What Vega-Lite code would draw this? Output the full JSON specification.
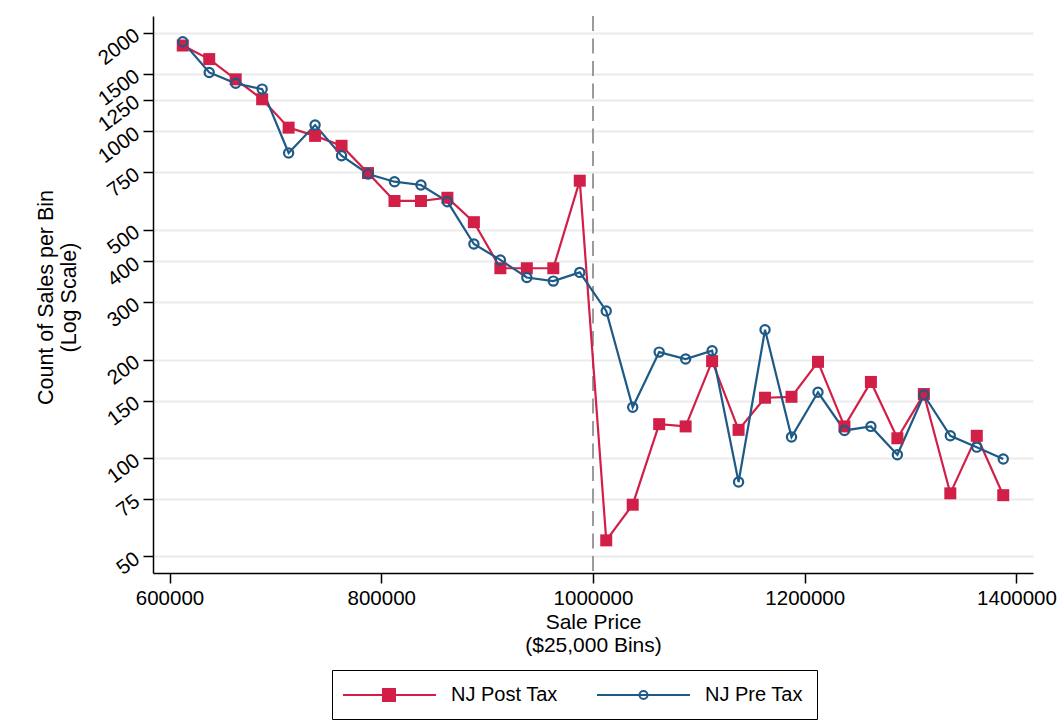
{
  "$schema": "https://vega.github.io/schema/vega-lite/v6.json",
  "width": 880,
  "height": 557,
  "autosize": {"type": "none"},
  "padding": {"left": 153, "top": 16, "right": 27, "bottom": 148},
  "background": "white",
  "config": {
    "font": "Liberation Sans",
    "view": {"stroke": null},
    "axis": {"labelColor": "black", "titleColor": "black", "titleFontWeight": "normal", "domainColor": "black", "tickColor": "black", "domainWidth": 1.5, "tickWidth": 1.5}
  },
  "datasets": {
    "sales": [
      {"price": 612500, "series": "NJ Post Tax", "count": 1830},
      {"price": 637500, "series": "NJ Post Tax", "count": 1663},
      {"price": 662500, "series": "NJ Post Tax", "count": 1442},
      {"price": 687500, "series": "NJ Post Tax", "count": 1253},
      {"price": 712500, "series": "NJ Post Tax", "count": 1026},
      {"price": 737500, "series": "NJ Post Tax", "count": 968},
      {"price": 762500, "series": "NJ Post Tax", "count": 903},
      {"price": 787500, "series": "NJ Post Tax", "count": 745},
      {"price": 812500, "series": "NJ Post Tax", "count": 612},
      {"price": 837500, "series": "NJ Post Tax", "count": 612},
      {"price": 862500, "series": "NJ Post Tax", "count": 626},
      {"price": 887500, "series": "NJ Post Tax", "count": 527},
      {"price": 912500, "series": "NJ Post Tax", "count": 381},
      {"price": 937500, "series": "NJ Post Tax", "count": 381},
      {"price": 962500, "series": "NJ Post Tax", "count": 381},
      {"price": 987500, "series": "NJ Post Tax", "count": 706},
      {"price": 1012500, "series": "NJ Post Tax", "count": 56},
      {"price": 1037500, "series": "NJ Post Tax", "count": 72},
      {"price": 1062500, "series": "NJ Post Tax", "count": 127},
      {"price": 1087500, "series": "NJ Post Tax", "count": 125},
      {"price": 1112500, "series": "NJ Post Tax", "count": 198},
      {"price": 1137500, "series": "NJ Post Tax", "count": 122},
      {"price": 1162500, "series": "NJ Post Tax", "count": 153},
      {"price": 1187500, "series": "NJ Post Tax", "count": 154},
      {"price": 1212500, "series": "NJ Post Tax", "count": 197},
      {"price": 1237500, "series": "NJ Post Tax", "count": 125},
      {"price": 1262500, "series": "NJ Post Tax", "count": 171},
      {"price": 1287500, "series": "NJ Post Tax", "count": 115},
      {"price": 1312500, "series": "NJ Post Tax", "count": 157},
      {"price": 1337500, "series": "NJ Post Tax", "count": 78},
      {"price": 1362500, "series": "NJ Post Tax", "count": 117},
      {"price": 1387500, "series": "NJ Post Tax", "count": 77},
      {"price": 612500, "series": "NJ Pre Tax", "count": 1880},
      {"price": 637500, "series": "NJ Pre Tax", "count": 1514},
      {"price": 662500, "series": "NJ Pre Tax", "count": 1402},
      {"price": 687500, "series": "NJ Pre Tax", "count": 1346},
      {"price": 712500, "series": "NJ Pre Tax", "count": 858},
      {"price": 737500, "series": "NJ Pre Tax", "count": 1045},
      {"price": 762500, "series": "NJ Pre Tax", "count": 842},
      {"price": 787500, "series": "NJ Pre Tax", "count": 740},
      {"price": 812500, "series": "NJ Pre Tax", "count": 701},
      {"price": 837500, "series": "NJ Pre Tax", "count": 685},
      {"price": 862500, "series": "NJ Pre Tax", "count": 609},
      {"price": 887500, "series": "NJ Pre Tax", "count": 452},
      {"price": 912500, "series": "NJ Pre Tax", "count": 404},
      {"price": 937500, "series": "NJ Pre Tax", "count": 357},
      {"price": 962500, "series": "NJ Pre Tax", "count": 348},
      {"price": 987500, "series": "NJ Pre Tax", "count": 370},
      {"price": 1012500, "series": "NJ Pre Tax", "count": 282},
      {"price": 1037500, "series": "NJ Pre Tax", "count": 143},
      {"price": 1062500, "series": "NJ Pre Tax", "count": 211},
      {"price": 1087500, "series": "NJ Pre Tax", "count": 201},
      {"price": 1112500, "series": "NJ Pre Tax", "count": 213},
      {"price": 1137500, "series": "NJ Pre Tax", "count": 84.5},
      {"price": 1162500, "series": "NJ Pre Tax", "count": 247},
      {"price": 1187500, "series": "NJ Pre Tax", "count": 116},
      {"price": 1212500, "series": "NJ Pre Tax", "count": 159},
      {"price": 1237500, "series": "NJ Pre Tax", "count": 121.5},
      {"price": 1262500, "series": "NJ Pre Tax", "count": 125},
      {"price": 1287500, "series": "NJ Pre Tax", "count": 102.4},
      {"price": 1312500, "series": "NJ Pre Tax", "count": 156},
      {"price": 1337500, "series": "NJ Pre Tax", "count": 117},
      {"price": 1362500, "series": "NJ Pre Tax", "count": 108},
      {"price": 1387500, "series": "NJ Pre Tax", "count": 99.3}
    ],
    "cutoff": [{"cut": 1000000}]
  },
  "encoding": {
    "x": {
      "field": "price", "type": "quantitative",
      "scale": {"domain": [584400, 1415600], "nice": false, "zero": false},
      "axis": {
        "values": [600000, 800000, 1000000, 1200000, 1400000],
        "format": "d", "grid": false, "tickSize": 10,
        "labelFontSize": 20.5, "labelPadding": 5, "labelFlush": false, "labelOverlap": false,
        "title": ["Sale Price", "($25,000 Bins)"],
        "titleFontSize": 21, "titleLineHeight": 23, "titleBaseline": "top",
        "titleX": 440, "titleY": 38, "titleAlign": "center"
      }
    },
    "y": {
      "field": "count", "type": "quantitative",
      "scale": {"type": "log", "domain": [44.5, 2253], "nice": false},
      "axis": {
        "values": [50, 75, 100, 150, 200, 300, 400, 500, 750, 1000, 1250, 1500, 2000],
        "format": "d", "grid": true, "gridColor": "#ebebeb", "gridWidth": 2,
        "tickSize": 10, "labelAngle": -37, "labelAlign": "right", "labelBaseline": "middle",
        "labelFontSize": 20.5, "labelPadding": 6, "labelFlush": false, "labelOverlap": false,
        "title": ["Count of Sales per Bin", "(Log Scale)"],
        "titleFontSize": 21.5, "titleLineHeight": 23, "titleAngle": -90,
        "titleX": -107, "titleY": 281, "titleAlign": "center", "titleBaseline": "middle"
      }
    }
  },
  "layer": [
    {
      "data": {"name": "cutoff"},
      "mark": {"type": "rule", "color": "#9b9b9b", "strokeWidth": 2, "strokeDash": [15, 7.5]},
      "encoding": {"x": {"field": "cut", "type": "quantitative"}, "y": null}
    },
    {
      "data": {"name": "sales"},
      "mark": {"type": "line", "strokeWidth": 2.2},
      "encoding": {
        "color": {
          "field": "series", "type": "nominal",
          "scale": {"domain": ["NJ Post Tax", "NJ Pre Tax"], "range": ["#d11f47", "#1e5a86"]},
          "legend": {
            "orient": "none", "legendX": 179, "legendY": 654,
            "direction": "horizontal", "columns": 2, "title": null,
            "strokeColor": "black", "padding": 14,
            "symbolSize": 400, "symbolStrokeWidth": 2,
            "labelFontSize": 20, "labelColor": "black", "labelOffset": 83,
            "columnPadding": 35,
            "encode": {
              "symbols": {
                "update": {
                  "shape": {"signal": "datum.value === 'NJ Post Tax' ? 'M-1.4,0H7.9M2.6,-0.6H3.8V0.6H2.6Z' : 'M-1.4,0H7.9M3.65,0A0.4,0.4,0,1,1,2.85,0A0.4,0.4,0,1,1,3.65,0Z'"},
                  "fill": {"signal": "datum.value === 'NJ Post Tax' ? '#d11f47' : 'transparent'"},
                  "stroke": {"signal": "datum.value === 'NJ Post Tax' ? '#d11f47' : '#1e5a86'"},
                  "strokeWidth": {"value": 2},
                  "opacity": {"value": 1}
                }
              }
            }
          }
        }
      }
    },
    {
      "data": {"name": "sales"},
      "transform": [{"filter": "datum.series === 'NJ Post Tax'"}],
      "mark": {"type": "square", "filled": true, "size": 144, "color": "#d11f47", "opacity": 1}
    },
    {
      "data": {"name": "sales"},
      "transform": [{"filter": "datum.series === 'NJ Pre Tax'"}],
      "mark": {"type": "point", "shape": "circle", "filled": false, "size": 85, "strokeWidth": 2.2, "color": "#1e5a86", "opacity": 1}
    }
  ]
}
